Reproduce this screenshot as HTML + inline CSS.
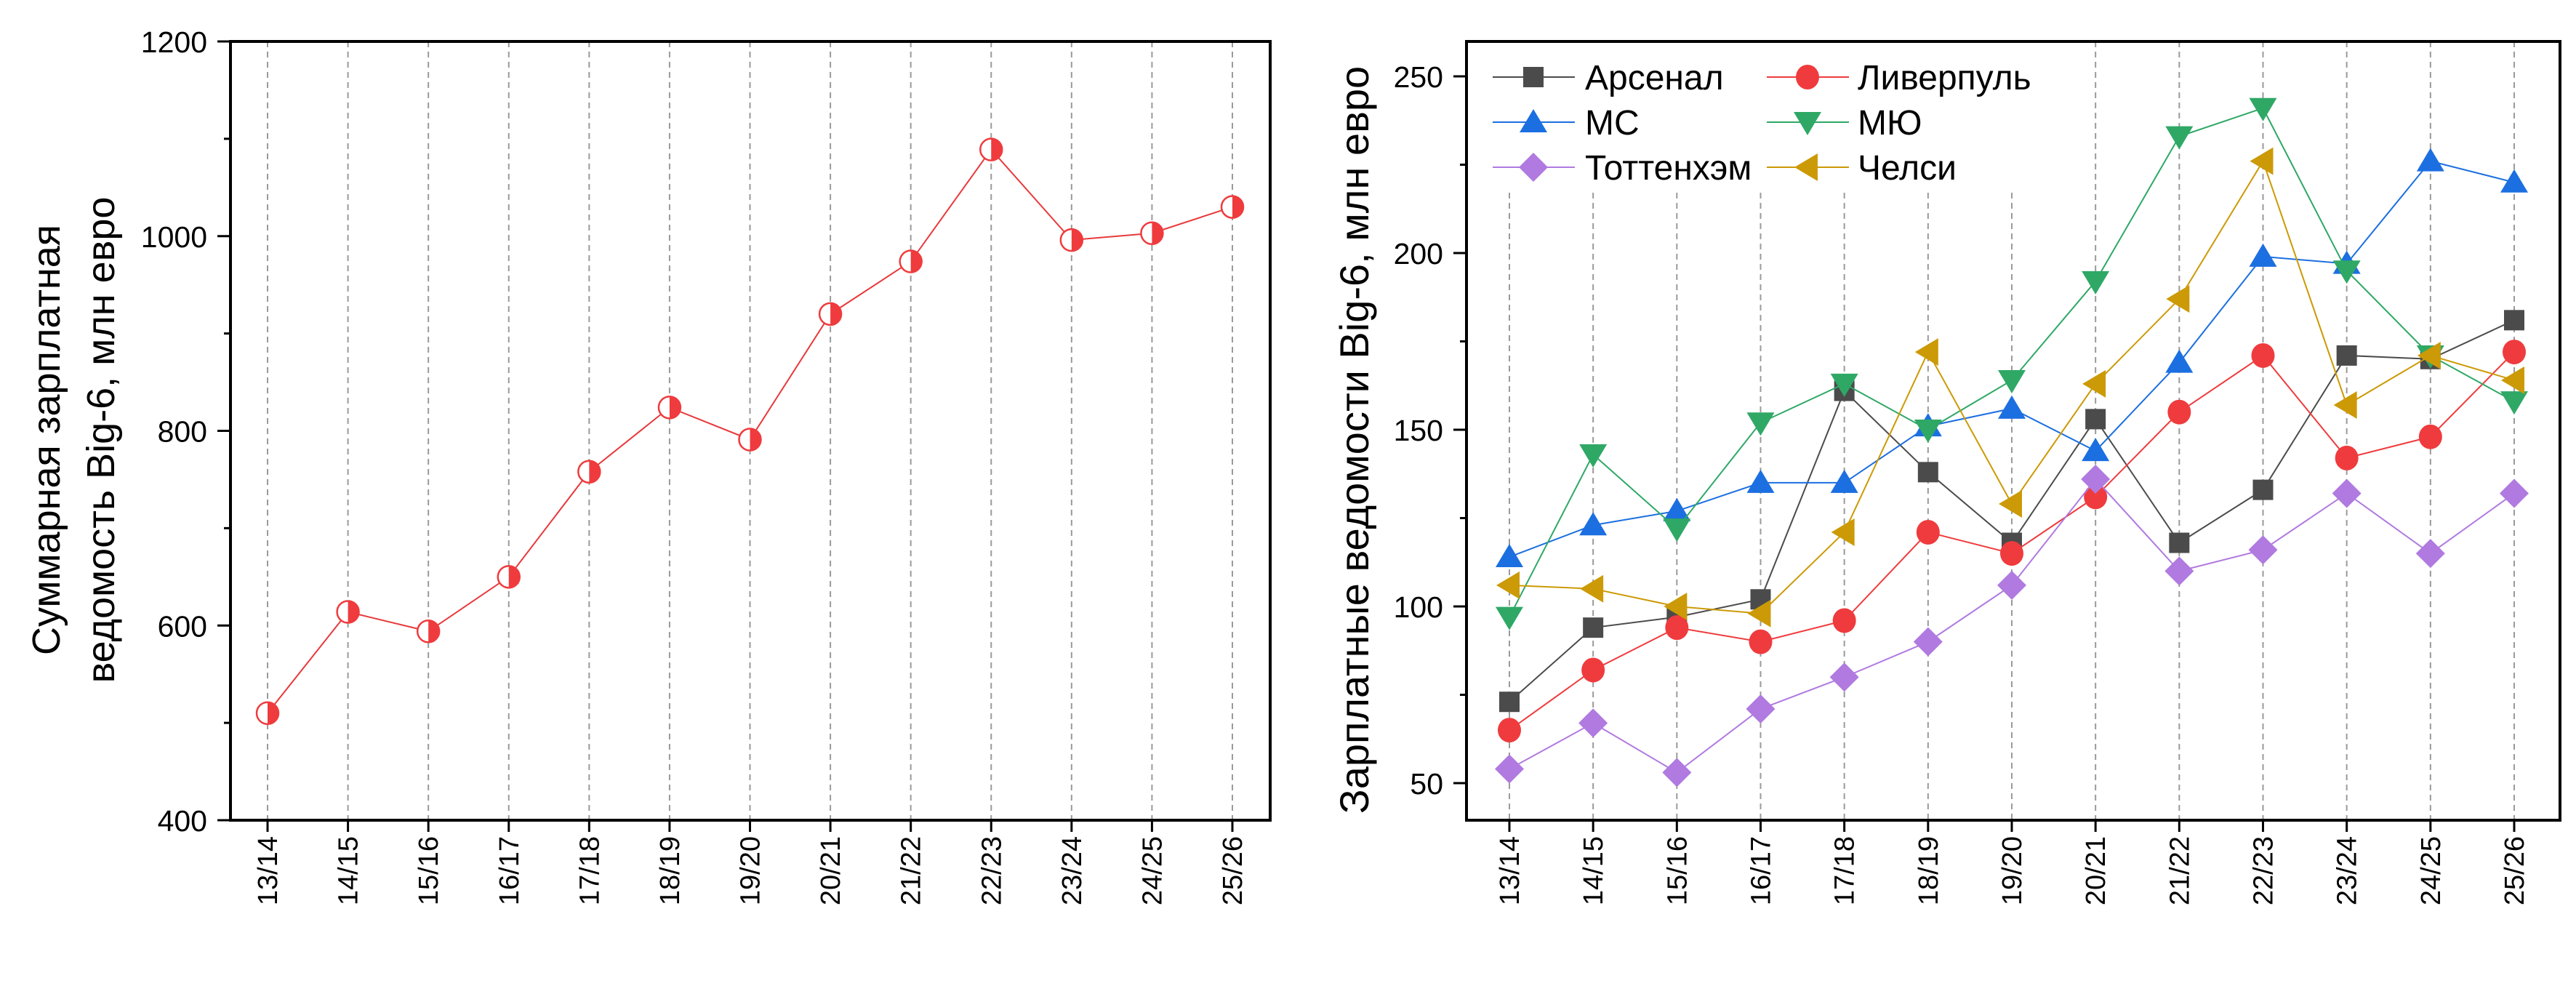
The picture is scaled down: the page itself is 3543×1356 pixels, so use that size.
<!DOCTYPE html>
<html><head><meta charset="utf-8">
<style>
html,body{margin:0;padding:0;background:#fff;}
svg{display:block;font-family:"Liberation Sans",sans-serif;}
</style></head>
<body>
<svg id="fig" width="3543" height="1356" viewBox="0 0 3543 1356" xmlns="http://www.w3.org/2000/svg">
<rect width="3543" height="1356" fill="#fff"/>
</svg>
<script>
const seasons = ["13/14","14/15","15/16","16/17","17/18","18/19","19/20","20/21","21/22","22/23","23/24","24/25","25/26"];
const totalPayroll = [510,614,594,650,758,824,791,920,974,1089,996,1003,1030];
const leftTicks = [400,600,800,1000,1200];
const rightTicks = [50,100,150,200,250];
const arsenal = [73,94,97,102,161,138,118,153,118,133,171,170,181];
const liverpool = [65,82,94,90,96,121,115,131,155,171,142,148,172];
const mancity = [114,123,127,135,135,151,156,144,169,199,197,226,220];
const manutd = [97,143,122,152,163,150,164,192,233,241,195,171,158];
const tottenham = [54,67,53,71,80,90,106,136,110,116,132,115,132];
const chelsea = [106,105,100,98,121,172,129,163,187,226,157,171,164];
const seriesNames = ["Арсенал","Ливерпуль","МС","МЮ","Тоттенхэм","Челси"];

const NS="http://www.w3.org/2000/svg";
const svg=document.getElementById('fig');
function el(tag,attrs,parent){const e=document.createElementNS(NS,tag);for(const k in attrs)e.setAttribute(k,attrs[k]);(parent||svg).appendChild(e);return e;}

function drawGrid(g,B,xs,gridTopFn){
  seasons.forEach((s,i)=>{
    const gl=el('line',{x1:xs(i),x2:xs(i),y1:gridTopFn(i),y2:B,stroke:'#9a9a9a','stroke-width':2,'stroke-dasharray':'8,6'},g);
    
    
  });
}
function drawAxes(g,L,R,T,B,xs,ys,ticks,minorStep,ymin,ymax){
  const box=el('rect',{x:L,y:T,width:R-L,height:B-T,fill:'none',stroke:'#000','stroke-width':4},g);
  
  
  for(let v=ymin;v<=ymax+1e-9;v+=minorStep){
    const major=ticks.includes(v);
    const t=el('line',{x1:L-(major?18:9),x2:L,y1:ys(v),y2:ys(v),stroke:'#000','stroke-width':3},g);
    
    
  }
  ticks.forEach(v=>{
    const tx=el('text',{x:L-32,y:ys(v)+15,'text-anchor':'end','font-size':41,fill:'#000'},g);
    tx.textContent=v;
    
    
  });
  seasons.forEach((s,i)=>{
    const t=el('line',{x1:xs(i),x2:xs(i),y1:B,y2:B+16,stroke:'#000','stroke-width':3},g);
    
    
    const tx=el('text',{x:0,y:0,'text-anchor':'end','font-size':38,fill:'#000',transform:`translate(${xs(i)+13},1150) rotate(-90)`},g);
    tx.textContent=s;
    
    
  });
}

/* ---------- LEFT CHART ---------- */
{
  const g=el('g',{});
  
  
  const L=317,R=1747,T=57,B=1128;
  const xs=i=>368+i*(1695-368)/12;
  const ys=v=>B-(v-400)/(1200-400)*(B-T);
  drawGrid(g,B,xs,()=>T);
  const pts=totalPayroll.map((v,i)=>xs(i)+','+ys(v)).join(' ');
  const pl=el('polyline',{points:pts,fill:'none',stroke:'#e8393b','stroke-width':2},g);
  
  
  totalPayroll.forEach((v,i)=>{
    const cx=xs(i),cy=ys(v),r=15;
    const mg=el('g',{},g);
    
    
    el('circle',{cx,cy,r,fill:'#fff'},mg);
    el('path',{d:`M${cx},${cy-r} A${r},${r} 0 0 1 ${cx},${cy+r} Z`,fill:'#ef3b3d'},mg);
    el('circle',{cx,cy,r,fill:'none',stroke:'#ef3b3d','stroke-width':2.5},mg);
  });
  drawAxes(g,L,R,T,B,xs,ys,leftTicks,100,400,1200);
  const t1=el('text',{x:0,y:0,'text-anchor':'middle','font-size':54,fill:'#000',transform:'translate(82,605) rotate(-90)'},g);
  t1.textContent='Суммарная зарплатная';
  
  
  const t2=el('text',{x:0,y:0,'text-anchor':'middle','font-size':54,fill:'#000',transform:'translate(157,605) rotate(-90)'},g);
  t2.textContent='ведомость Big-6, млн евро';
  
  
}

/* ---------- RIGHT CHART ---------- */
{
  const g=el('g',{});
  
  
  const L=2017,R=3521,T=57,B=1128;
  const xs=i=>2076+i*(3458-2076)/12;
  const ys=v=>105+(250-v)*(243/50);
  drawGrid(g,B,xs,i=>i<=6?265:T);
  const series=[
    {d:arsenal,c:'#4b4b4b',m:'square'},
    {d:liverpool,c:'#ef3b3d',m:'circle'},
    {d:mancity,c:'#1c6fe0',m:'up'},
    {d:manutd,c:'#2fa866',m:'down'},
    {d:tottenham,c:'#b07ae0',m:'diamond'},
    {d:chelsea,c:'#cc9a06',m:'left'}
  ];
  function marker(parent,m,x,y,c){
    if(m==='square') return el('rect',{x:x-14,y:y-14,width:28,height:28,fill:c},parent);
    if(m==='circle') return el('ellipse',{cx:x,cy:y,rx:16,ry:17,fill:c},parent);
    if(m==='up') return el('polygon',{points:`${x},${y-18} ${x+19},${y+14} ${x-19},${y+14}`,fill:c},parent);
    if(m==='down') return el('polygon',{points:`${x},${y+18} ${x+19},${y-14} ${x-19},${y-14}`,fill:c},parent);
    if(m==='diamond') return el('polygon',{points:`${x},${y-20} ${x+20},${y} ${x},${y+20} ${x-20},${y}`,fill:c},parent);
    if(m==='left') return el('polygon',{points:`${x-18},${y} ${x+14},${y-19} ${x+14},${y+19}`,fill:c},parent);
  }
  series.forEach((s,k)=>{
    const sg=el('g',{},g);
    
    
    const pl=el('polyline',{points:s.d.map((v,i)=>xs(i)+','+ys(v)).join(' '),fill:'none',stroke:s.c,'stroke-width':2},sg);
    
    
    s.d.forEach((v,i)=>{
      const mk=marker(sg,s.m,xs(i),ys(v),s.c);
      
      
    });
  });
  const lg=el('g',{},g);
  
  
  const cols=[{lx:2053,mx:2109,tx:2180},{lx:2430,mx:2486,tx:2555}];
  const rows=[106,168,230];
  series.forEach((s,k)=>{
    const col=cols[k%2],row=rows[Math.floor(k/2)];
    const eg=el('g',{},lg);
    
    
    el('line',{x1:col.lx,x2:col.lx+113,y1:row,y2:row,stroke:s.c,'stroke-width':2},eg);
    marker(eg,s.m,col.mx,row,s.c);
    const t=el('text',{x:col.tx,y:row+17,'font-size':48,fill:'#000'},eg);
    t.textContent=seriesNames[k];
  });
  drawAxes(g,L,R,T,B,xs,ys,rightTicks,25,50,250);
  const t=el('text',{x:0,y:0,'text-anchor':'middle','font-size':56,fill:'#000',transform:'translate(1882,605) rotate(-90)'},g);
  t.textContent='Зарплатные ведомости Big-6, млн евро';
  
  
}
</script>
</body></html>
